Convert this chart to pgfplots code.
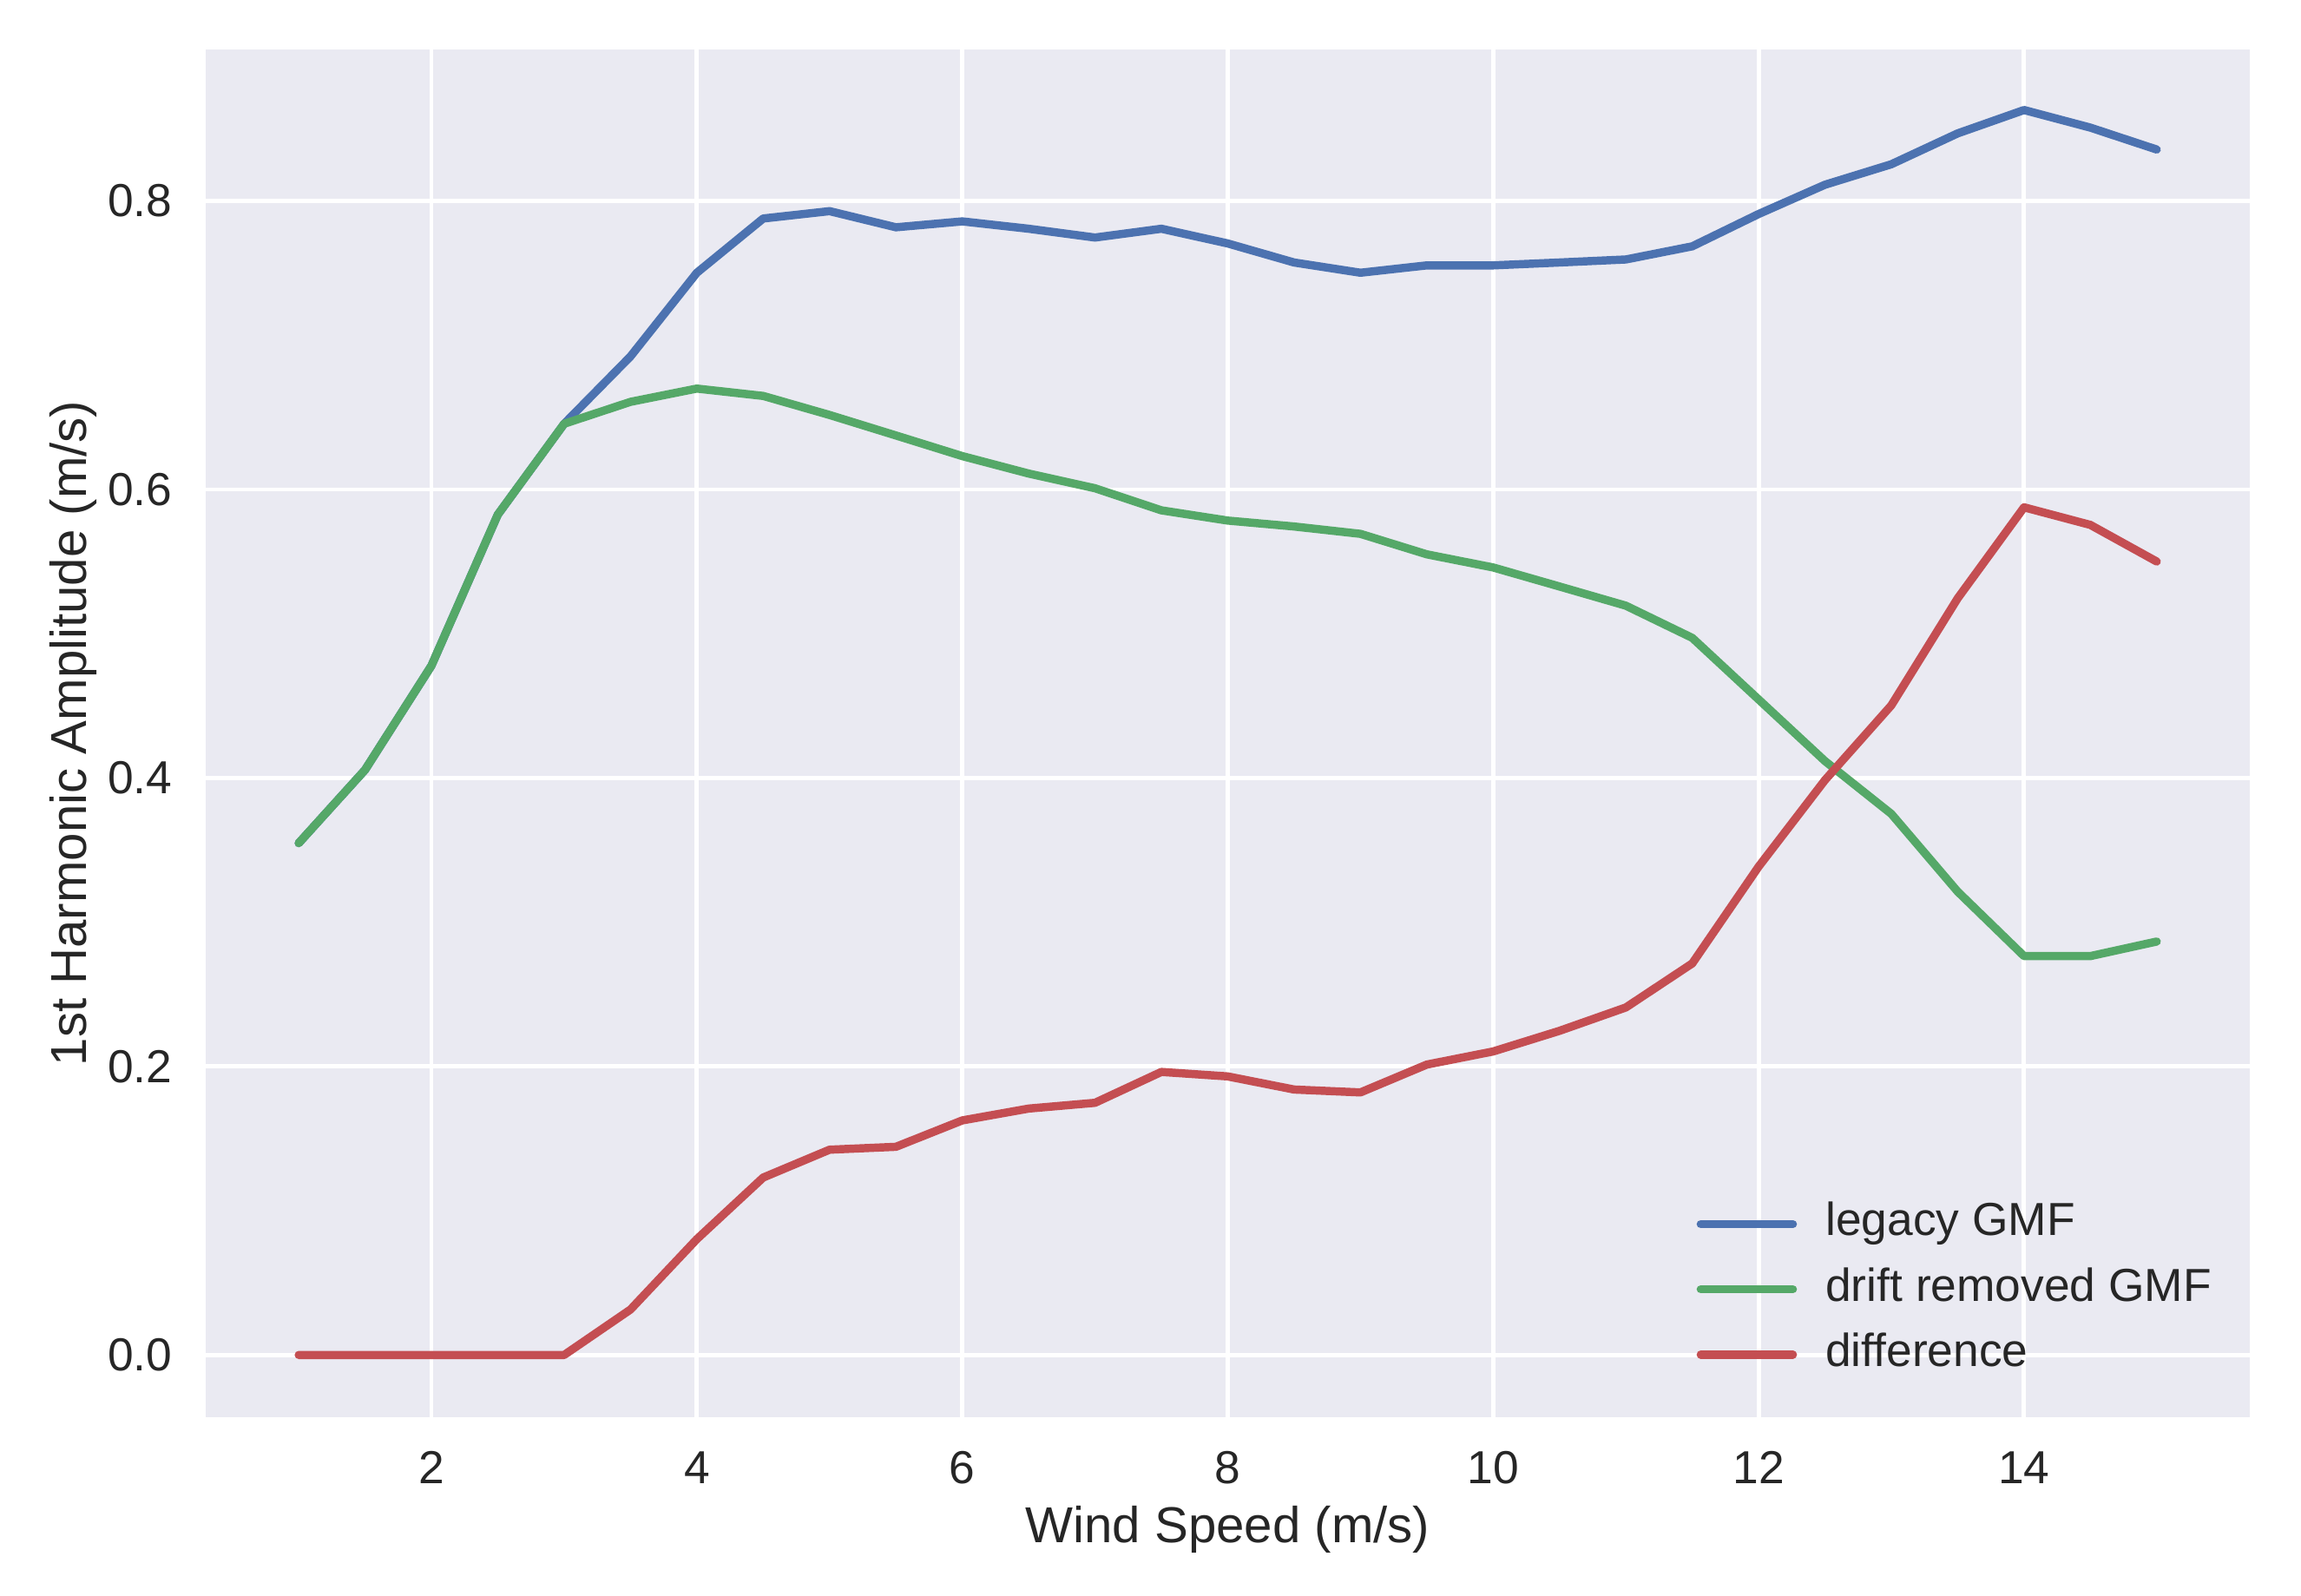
\documentclass[border=0pt]{standalone}
\usepackage{pgfplots}
\pgfplotsset{compat=1.18}
\usepackage{fontspec}
\setmainfont{Liberation Sans}
\definecolor{sbblue}{HTML}{4C72B0}
\definecolor{sbgreen}{HTML}{55A868}
\definecolor{sbred}{HTML}{C44E52}
\definecolor{sbbg}{HTML}{EAEAF2}
\definecolor{sbtext}{HTML}{262626}
\begin{document}
\begin{tikzpicture}
\begin{axis}[
  scale only axis,
  width=485.6pt, height=325pt,
  xmin=0.3, xmax=15.7, ymin=-0.0431, ymax=0.905,
  axis background/.style={fill=sbbg},
  axis line style={draw=none},
  major tick length=0pt,
  xtick={2,4,6,8,10,12,14},
  ytick={0,0.2,0.4,0.6,0.8},
  grid=major,
  major grid style={white, line width=1pt},
  /pgf/number format/assume math mode=true,
  yticklabel={\pgfmathprintnumber[fixed,fixed zerofill,precision=1]{\tick}},
  ticklabel style={font=\fontsize{11}{13}\selectfont, text=sbtext},
  yticklabel style={anchor=east, inner sep=0pt, xshift=-7.8pt},
  xticklabel style={anchor=north, inner sep=0pt, yshift=-8pt},
  xlabel={Wind Speed (m/s)},
  ylabel={1st Harmonic Amplitude (m/s)},
  label style={font=\fontsize{12}{14}\selectfont, text=sbtext},
  xlabel style={at={(axis description cs:0.5,0)}, anchor=base, inner sep=0pt, yshift=-29.9pt},
  ylabel style={at={([xshift=-28.3pt]axis description cs:0,0.5)}, rotate=0, anchor=base, inner sep=0pt},
  every axis plot/.append style={line width=1.95pt, line cap=round, line join=round},
  legend cell align=left,
  legend image code/.code={\draw[#1] (0pt,0pt) -- (21.9pt,0pt);},
  legend style={draw=none, fill=none, at={(axis description cs:0.7290,0.1579)}, anchor=north west,
    inner sep=0pt, row sep=5pt, column sep=6.8pt,
    font=\fontsize{11}{13}\selectfont, text=sbtext,
    nodes={inner sep=0pt, text height=8pt, text depth=2.5pt}},
]
\addplot[sbblue] coordinates {
(1,0.3548) (1.5,0.4056) (2,0.4778) (2.5,0.5825) (3,0.6455) (3.5,0.6922) (4,0.7502) (4.5,0.7878)
(5,0.7929) (5.5,0.7817) (6,0.7858) (6.5,0.7807) (7,0.7746) (7.5,0.7807) (8,0.7705) (8.5,0.7573)
(9,0.7502) (9.5,0.7553) (10,0.7553) (10.5,0.7573) (11,0.7594) (11.5,0.7685) (12,0.7909) (12.5,0.8112)
(13,0.8254) (13.5,0.8468) (14,0.8630) (14.5,0.8508) (15,0.8356)};
\addlegendentry{legacy GMF}
\addplot[sbgreen] coordinates {
(1,0.3548) (1.5,0.4056) (2,0.4778) (2.5,0.5825) (3,0.6455) (3.5,0.6607) (4,0.6699) (4.5,0.6648)
(5,0.6516) (5.5,0.6374) (6,0.6231) (6.5,0.6110) (7,0.6008) (7.5,0.5855) (8,0.5784) (8.5,0.5743)
(9,0.5692) (9.5,0.5550) (10,0.5459) (10.5,0.5327) (11,0.5194) (11.5,0.4971) (12,0.4544) (12.5,0.4117)
(13,0.3751) (13.5,0.3212) (14,0.2765) (14.5,0.2765) (15,0.2866)};
\addlegendentry{drift removed GMF}
\addplot[sbred] coordinates {
(1,0) (1.5,0) (2,0) (2.5,0) (3,0) (3.5,0.0315) (4,0.0803) (4.5,0.1230)
(5,0.1423) (5.5,0.1443) (6,0.1626) (6.5,0.1708) (7,0.1748) (7.5,0.1962) (8,0.1931) (8.5,0.1840)
(9,0.1820) (9.5,0.2013) (10,0.2104) (10.5,0.2247) (11,0.2409) (11.5,0.2714) (12,0.3385) (12.5,0.3985)
(13,0.4503) (13.5,0.5245) (14,0.5876) (14.5,0.5754) (15,0.5500)};
\addlegendentry{difference}
\end{axis}
\pgfresetboundingbox
\path (current axis.south west) ++(-48.9pt,-42.5pt) coordinate (bbsw);
\path (current axis.north east) ++(12.2pt,11.75pt) coordinate (bbne);
\path[use as bounding box] (bbsw) rectangle (bbne);
\end{tikzpicture}
\end{document}
